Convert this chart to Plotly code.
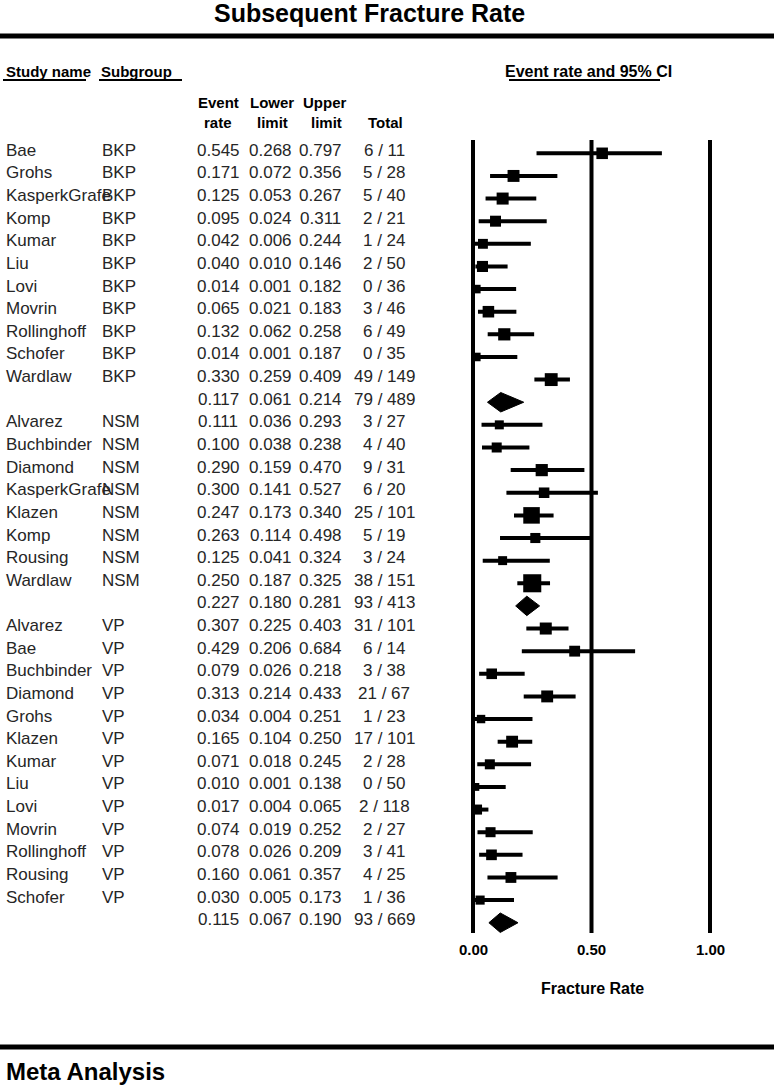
import numpy as np
import plotly.graph_objects as go

# ---------------- data ----------------
study = ["Bae", "Grohs", "KasperkGrafe", "Komp", "Kumar", "Liu", "Lovi", "Movrin",
         "Rollinghoff", "Schofer", "Wardlaw", "",
         "Alvarez", "Buchbinder", "Diamond", "KasperkGrafe", "Klazen", "Komp",
         "Rousing", "Wardlaw", "",
         "Alvarez", "Bae", "Buchbinder", "Diamond", "Grohs", "Klazen", "Kumar",
         "Liu", "Lovi", "Movrin", "Rollinghoff", "Rousing", "Schofer", ""]
subgroup = ["BKP"] * 11 + [""] + ["NSM"] * 8 + [""] + ["VP"] * 13 + [""]
event_rate = [0.545, 0.171, 0.125, 0.095, 0.042, 0.040, 0.014, 0.065, 0.132, 0.014, 0.330, 0.117,
              0.111, 0.100, 0.290, 0.300, 0.247, 0.263, 0.125, 0.250, 0.227,
              0.307, 0.429, 0.079, 0.313, 0.034, 0.165, 0.071, 0.010, 0.017, 0.074, 0.078,
              0.160, 0.030, 0.115]
lower_limit = [0.268, 0.072, 0.053, 0.024, 0.006, 0.010, 0.001, 0.021, 0.062, 0.001, 0.259, 0.061,
               0.036, 0.038, 0.159, 0.141, 0.173, 0.114, 0.041, 0.187, 0.180,
               0.225, 0.206, 0.026, 0.214, 0.004, 0.104, 0.018, 0.001, 0.004, 0.019, 0.026,
               0.061, 0.005, 0.067]
upper_limit = [0.797, 0.356, 0.267, 0.311, 0.244, 0.146, 0.182, 0.183, 0.258, 0.187, 0.409, 0.214,
               0.293, 0.238, 0.470, 0.527, 0.340, 0.498, 0.324, 0.325, 0.281,
               0.403, 0.684, 0.218, 0.433, 0.251, 0.250, 0.245, 0.138, 0.065, 0.252, 0.209,
               0.357, 0.173, 0.190]
events = [6, 5, 5, 2, 1, 2, 0, 3, 6, 0, 49, 79,
          3, 4, 9, 6, 25, 5, 3, 38, 93,
          31, 6, 3, 21, 1, 17, 2, 0, 2, 2, 3, 4, 1, 93]
totals = [11, 28, 40, 21, 24, 50, 36, 46, 49, 35, 149, 489,
          27, 40, 31, 20, 101, 19, 24, 151, 413,
          101, 14, 38, 67, 23, 101, 28, 50, 118, 27, 41, 25, 36, 669]
is_pooled = [False] * 11 + [True] + [False] * 8 + [True] + [False] * 13 + [True]
tick_values = [0.0, 0.5, 1.0]
tick_labels = ["0.00", "0.50", "1.00"]

# ---------------- geometry (pixels -> coordinates) ----------------
W, H = 774, 1087
X0PX, XSCALE = 473.0, 237.0          # px of x=0, px per unit
Y0PX, ROWPX = 153.3, 22.63           # px of first row, px per row

def px(xpix):
    return xpix / W

def py(ypix):
    return 1 - ypix / H

FONT = "Liberation Sans, Arial, Helvetica, sans-serif"
TXT = "#262626"

n = len(study)
rows = np.arange(n)
er = np.array(event_rate)
lo = np.array(lower_limit)
up = np.array(upper_limit)
pool = np.array(is_pooled)
grp = np.array(subgroup)

# box sizes: random-effects (DerSimonian-Laird) relative weights within subgroup
def logit(p):
    return np.log(p / (1 - p))
yl = logit(er)
var = ((logit(up) - logit(lo)) / (2 * 1.96)) ** 2
sizes = np.zeros(n)
for g in ["BKP", "NSM", "VP"]:
    m = grp == g
    w = 1 / var[m]
    mu = np.sum(w * yl[m]) / np.sum(w)
    Q = np.sum(w * (yl[m] - mu) ** 2)
    C = np.sum(w) - np.sum(w ** 2) / np.sum(w)
    tau2 = max(0.0, (Q - (m.sum() - 1)) / C)
    ws = 1 / (var[m] + tau2)
    rel = ws / ws.sum()
    sizes[m] = 28.4 * rel ** 0.39
sizes = np.clip(sizes, 5, 20)

fig = go.Figure()

# vertical reference lines
for t in tick_values:
    fig.add_shape(type="line", xref="x", yref="y", x0=t, x1=t,
                  y0=-0.59, y1=34.45, line=dict(color="black", width=4))

# study-level estimates with CI
idx = rows[~pool]
fig.add_trace(go.Scatter(
    x=er[idx], y=idx, mode="markers",
    marker=dict(symbol="square", size=sizes[idx], color="black", opacity=1,
                line=dict(width=0)),
    error_x=dict(type="data", symmetric=False, array=(up - er)[idx],
                 arrayminus=(er - lo)[idx], thickness=4, width=0, color="black"),
    showlegend=False, hoverinfo="skip"))

# pooled diamonds
h = 0.43
for i in rows[pool]:
    fig.add_trace(go.Scatter(
        x=[lo[i], er[i], up[i], er[i], lo[i]],
        y=[i, i - h, i, i + h, i],
        mode="lines", fill="toself", fillcolor="black",
        line=dict(color="black", width=1), showlegend=False, hoverinfo="skip"))

annotations = []

def add_text(text, x, y, xanchor="left", yref="paper", size=17, color=TXT, yshift=0):
    annotations.append(dict(text=text, x=x, y=y, xref="paper", yref=yref,
                            xanchor=xanchor, yanchor="middle", showarrow=False,
                            yshift=yshift, font=dict(family=FONT, size=size, color=color)))

# table rows
for i in range(n):
    if study[i]:
        add_text(study[i], px(4), i, yref="y", yshift=3)
    if subgroup[i]:
        add_text(subgroup[i], px(100), i, yref="y", yshift=3)
    add_text(f"{event_rate[i]:.3f}", px(218), i, "center", yref="y", yshift=3)
    add_text(f"{lower_limit[i]:.3f}", px(270), i, "center", yref="y", yshift=3)
    add_text(f"{upper_limit[i]:.3f}", px(320), i, "center", yref="y", yshift=3)
    add_text(f"{events[i]} / {totals[i]}", px(384), i, "center", yref="y", yshift=3)

# headers
add_text("<b>Subsequent Fracture Rate</b>", px(369), py(13), "center", size=25, color="black")
add_text("<b>Study name</b>", px(4), py(71), size=15, color="black")
add_text("<b>Subgroup</b>", px(99), py(71), size=15, color="black")
add_text("<b>Event rate and 95% CI</b>", px(588), py(71), "center", size=16, color="black")
for label, xc in [("Event", 218), ("Lower", 272), ("Upper", 325)]:
    add_text(f"<b>{label}</b>", px(xc), py(103), "center", size=15, color="black")
for label, xc in [("rate", 218), ("limit", 272), ("limit", 326), ("Total", 385)]:
    add_text(f"<b>{label}</b>", px(xc), py(123), "center", size=15, color="black")

# tick labels and axis title
for t, lab in zip(tick_values, tick_labels):
    annotations.append(dict(text=f"<b>{lab}</b>", x=t, y=py(949), xref="x", yref="paper",
                            xanchor="center", yanchor="middle", showarrow=False,
                            font=dict(family=FONT, size=15, color="black")))
add_text("<b>Fracture Rate</b>", px(592), py(988), "center", size=16, color="black")
add_text("<b>Meta Analysis</b>", px(4), py(1071), size=24, color="black")

# horizontal rules and underlines
shapes_px = [
    (0, W, 36, 5),
    (0, W, 1047, 5),
    (3, 86, 80, 2),
    (99, 182, 80, 2),
    (509, 660, 80, 2),
]
for x0, x1, yy, wd in shapes_px:
    fig.add_shape(type="line", xref="paper", yref="paper", x0=px(x0), x1=px(x1),
                  y0=py(yy), y1=py(yy), line=dict(color="black", width=wd))

fig.update_layout(
    width=W, height=H, margin=dict(l=0, r=0, t=0, b=0),
    paper_bgcolor="white", plot_bgcolor="white",
    xaxis=dict(range=[-X0PX / XSCALE, (W - X0PX) / XSCALE], visible=False, fixedrange=True),
    yaxis=dict(range=[(H - Y0PX) / ROWPX, -Y0PX / ROWPX], visible=False, fixedrange=True),
    annotations=annotations, showlegend=False,
)

fig.write_html("out.html", config={"displayModeBar": False},
               post_script="document.body.style.margin='0';document.body.style.overflow='hidden';")
